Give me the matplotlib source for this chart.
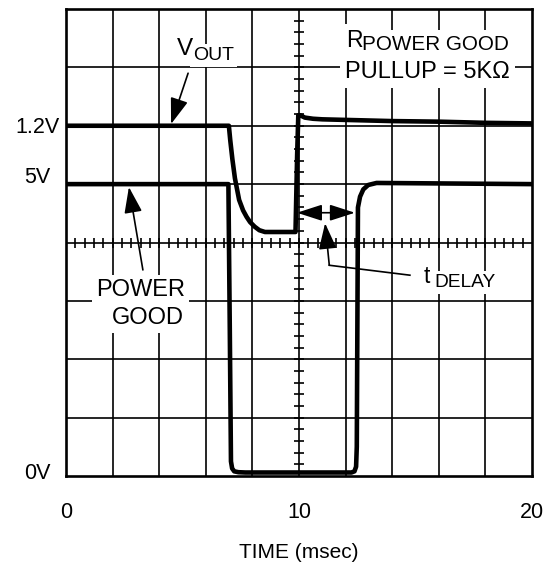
import numpy as np
import matplotlib
matplotlib.use("Agg")
import matplotlib.pyplot as plt

plt.rcParams['font.family'] = ['Liberation Sans', 'DejaVu Sans']

# ---- data (time in msec, amplitude in screen divisions) ----
t_vout = [0, 6.99, 7.05, 7.14, 7.25, 7.43, 7.6, 7.75, 7.9, 8.1, 8.3, 8.54,
          9.85, 9.92, 9.97, 10.05, 10.25, 10.6, 11.0, 12.0, 14.0, 16.0, 18.0, 20.0]
vout_div = [6.0, 6.0, 5.75, 5.43, 5.1, 4.73, 4.55, 4.44, 4.35, 4.27, 4.21, 4.18,
            4.18, 5.5, 6.18, 6.18, 6.14, 6.12, 6.11, 6.10, 6.08, 6.07, 6.05, 6.04]

t_pg = [0, 6.97, 7.03, 7.08, 7.13, 7.22, 7.4, 7.7, 12.25, 12.38, 12.45, 12.48,
        12.53, 12.62, 12.76, 12.97, 13.33, 20]
pg_volts = [5.0, 5.0, 2.5, 0.25, 0.13, 0.08, 0.065, 0.06, 0.06, 0.08, 0.16, 0.5,
            4.6, 4.785, 4.91, 4.985, 5.02, 5.0]

x_ticks = [0, 10, 20]
x_tick_labels = ["0", "10", "20"]
level_labels = ["1.2V", "5V", "0V"]
level_pos = [5.97, 5.12, 0.05]

W, H = 547, 566
fig = plt.figure(figsize=(W / 100, H / 100), dpi=100)
ax = fig.add_axes([66 / W, 90 / H, 466 / W, 467 / H])
ax.set_xlim(0, 20)
ax.set_ylim(0, 8)

# graticule
for xv in np.arange(2, 20, 2):
    ax.axvline(xv, color='black', lw=1.2, zorder=1)
for yv in range(1, 8):
    ax.axhline(yv, color='black', lw=1.2, zorder=1)
mx = np.arange(0.4, 20, 0.4)
ax.plot(mx, np.full(mx.shape, 4.0), ls='none', marker='|', ms=7.5, mew=1.2,
        color='black', zorder=1)
my = np.arange(0.2, 8, 0.2)
ax.plot(np.full(my.shape, 10.0), my, ls='none', marker='_', ms=7, mew=1.2,
        color='black', zorder=1)

for s in ax.spines.values():
    s.set_linewidth(1.9)

# traces
ax.plot(t_vout, vout_div, color='black', lw=3.3, zorder=4, solid_joinstyle='round')
ax.plot(t_pg, pg_volts, color='black', lw=3.3, zorder=4, solid_joinstyle='round')

# axes labels
ax.set_yticks([])
ax.set_xticks(x_ticks)
ax.set_xticklabels(x_tick_labels, fontsize=15.5)
ax.tick_params(axis='x', length=0, pad=19)
ax.set_xlabel("TIME (msec)", fontsize=15, labelpad=14)

for lab, yp in zip(level_labels, level_pos):
    ax.text(-0.061, yp, lab, transform=ax.get_yaxis_transform(), ha='center',
            va='center', fontsize=15.5)


def label(x, y, s, size, ha='left', pad=2):
    # white knock-out box behind the text, then the text itself on top
    ax.text(x, y, s, fontsize=size, ha=ha, va='baseline', color='white',
            bbox=dict(fc='white', ec='none', pad=pad), zorder=2.5)
    ax.text(x, y, s, fontsize=size, ha=ha, va='baseline', color='black', zorder=3)


# V_OUT label
label(4.76, 7.21, "V", 17.5)
label(5.45, 7.13, "OUT", 14)
# R POWER GOOD label
label(12.04, 7.35, "R", 16.5, pad=3.5)
label(12.72, 7.30, "POWER GOOD", 14.9, pad=3.5)
label(11.97, 6.81, "PULLUP = 5K\u03a9", 17, pad=3.5)
# POWER GOOD label
label(5.11, 3.08, "POWER", 17, ha='right', pad=3)
label(5.07, 2.60, "GOOD", 17, ha='right', pad=3)
# t_DELAY label
label(15.37, 3.31, "t", 16.5)
label(15.80, 3.24, "DELAY", 13.8)

# arrows
head = dict(arrowstyle="-|>,head_length=1.6,head_width=0.55", mutation_scale=10,
            color='black', lw=1.2, shrinkA=0, shrinkB=0)
ax.annotate("", xy=(4.51, 6.03), xytext=(5.24, 6.90), arrowprops=head, zorder=5)
ax.annotate("", xy=(2.70, 4.95), xytext=(3.30, 3.53), arrowprops=head, zorder=5)
dbl = dict(arrowstyle="<|-|>,head_length=1.55,head_width=0.5", mutation_scale=10,
           color='black', lw=1.2, shrinkA=0, shrinkB=0)
ax.annotate("", xy=(9.91, 4.51), xytext=(12.40, 4.51), arrowprops=dbl, zorder=5)
ax.plot([11.30, 14.76], [3.61, 3.44], color='black', lw=1.2, zorder=5)
ax.annotate("", xy=(11.12, 4.33), xytext=(11.30, 3.61), arrowprops=head, zorder=5)

fig.savefig("out.png", dpi=100)
